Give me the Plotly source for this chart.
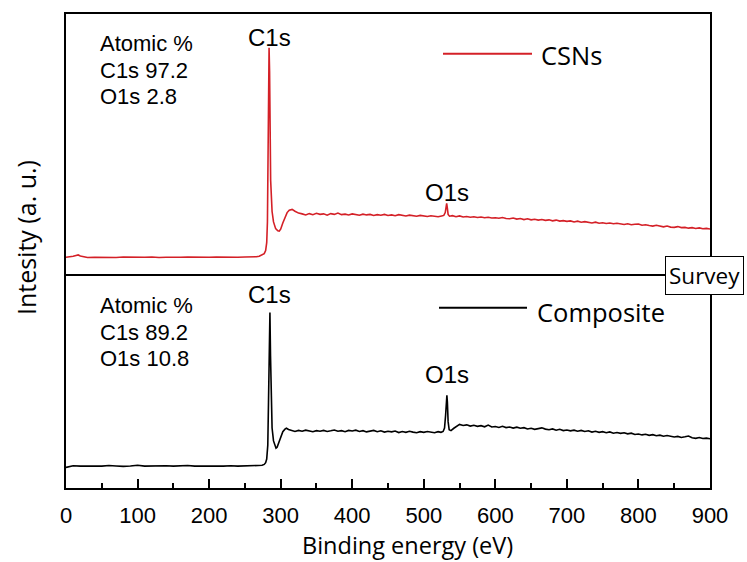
import plotly.graph_objects as go

# ---------------- data ----------------
csn_energy = [
    0, 5, 10, 14, 17, 20, 25, 30, 40, 50,
    60, 70, 80, 90, 100, 110, 120, 130, 140, 150,
    160, 170, 180, 190, 200, 210, 220, 230, 240, 250,
    260, 266, 270, 274, 277, 279, 280.5, 281.5, 282.3, 283,
    283.8, 284.5, 285.2, 286, 288, 290, 293, 296, 298, 300,
    303, 306, 309, 312, 316, 320, 325, 330, 335, 340,
    345, 350, 355, 360, 365, 370, 375, 380, 385, 390,
    395, 400, 405, 410, 415, 420, 425, 430, 435, 440,
    445, 450, 455, 460, 465, 470, 475, 480, 485, 490,
    495, 500, 505, 510, 515, 520, 525, 528, 530, 531,
    532, 533, 534, 536, 540, 545, 550, 555, 560, 565,
    570, 575, 580, 585, 590, 595, 600, 605, 610, 615,
    620, 625, 630, 635, 640, 645, 650, 655, 660, 665,
    670, 675, 680, 685, 690, 695, 700, 705, 710, 715,
    720, 725, 730, 735, 740, 745, 750, 755, 760, 765,
    770, 775, 780, 785, 790, 795, 800, 805, 810, 815,
    820, 825, 830, 835, 840, 845, 850, 855, 860, 865,
    870, 875, 880, 885, 890, 895, 900,
]
csn_intensity = [
    6.4, 6.5, 6.8, 7.1, 7.3, 6.9, 6.5, 6.3, 6.4, 6.3,
    6.4, 6.3, 6.5, 6.4, 6.3, 6.4, 6.5, 6.3, 6.4, 6.3,
    6.4, 6.5, 6.4, 6.3, 6.4, 6.5, 6.4, 6.3, 6.4, 6.5,
    6.5, 6.6, 6.8, 7.2, 7.8, 9.0, 12.0, 20.0, 38.0, 62.0,
    87.0, 78.0, 52.0, 36.0, 24.0, 20.0, 17.4, 16.6, 16.5, 17.2,
    19.6, 21.9, 23.6, 24.5, 24.8, 24.1, 23.4, 23.1, 22.7, 23.2,
    22.8, 23.3, 22.9, 23.1, 22.6, 23.2, 22.9, 23.4, 22.8, 23.0,
    22.7, 23.1, 22.8, 22.6, 23.0, 22.7, 22.9, 22.5, 22.8, 22.6,
    22.9, 22.5, 22.7, 22.4, 22.8, 22.5, 22.3, 22.6, 22.4, 22.2,
    22.5, 22.3, 22.1, 22.4, 22.2, 22.0, 22.3, 22.5, 23.6, 25.5,
    27.1, 25.2, 22.9, 22.2, 22.4, 22.0, 22.3, 21.9, 22.1, 21.8,
    22.0, 21.7, 21.9, 21.6, 21.8, 21.5, 21.6, 21.4, 21.7, 21.3,
    21.2, 21.5, 21.1, 21.3, 20.9, 21.2, 20.8, 21.0, 20.7, 20.9,
    20.6, 20.8, 20.4, 20.7, 20.3, 20.5, 20.2, 20.4, 20.0, 20.3,
    19.9, 20.1, 19.8, 19.6, 19.9, 19.5, 19.7, 19.4, 19.6, 19.3,
    19.5, 19.2, 19.0, 19.3, 18.9, 19.1, 19.2, 18.7, 18.9, 18.6,
    18.4, 18.7, 18.3, 18.1, 18.4, 18.0, 17.9, 18.2, 17.8, 17.9,
    17.6, 17.8, 17.5, 17.7, 17.4, 17.5, 17.3,
]

comp_energy = [
    0, 5, 10, 20, 30, 40, 50, 60, 70, 80,
    90, 100, 110, 120, 130, 140, 150, 160, 170, 180,
    190, 200, 210, 220, 230, 240, 250, 260, 266, 270,
    274, 277, 279, 280.5, 282, 283, 284, 285, 285.8, 286.6,
    288, 290, 292, 293.5, 295, 297, 300, 303, 306, 308,
    311, 315, 320, 325, 330, 335, 340, 345, 350, 355,
    360, 365, 370, 375, 380, 385, 390, 395, 400, 405,
    410, 415, 420, 425, 430, 435, 440, 445, 450, 455,
    460, 465, 470, 475, 480, 485, 490, 495, 500, 505,
    510, 515, 520, 524, 527, 529, 530.5, 531.5, 532.3, 533,
    534, 535.5, 538, 542, 546, 550, 555, 560, 565, 570,
    575, 580, 585, 590, 595, 600, 605, 610, 615, 620,
    625, 630, 635, 640, 645, 650, 655, 660, 665, 670,
    675, 680, 685, 690, 695, 700, 705, 710, 715, 720,
    725, 730, 735, 740, 745, 750, 755, 760, 765, 770,
    775, 780, 785, 790, 795, 800, 805, 810, 815, 820,
    825, 830, 835, 840, 845, 850, 855, 860, 865, 870,
    875, 880, 885, 890, 895, 900,
]
comp_intensity = [
    9.6, 10.1, 10.4, 10.2, 10.4, 10.3, 10.2, 10.5, 10.3, 10.1,
    10.3, 10.6, 10.2, 10.3, 10.1, 10.4, 10.2, 10.3, 10.5, 10.2,
    10.3, 10.1, 10.3, 10.2, 10.4, 10.2, 10.3, 10.2, 10.3, 10.4,
    10.6, 11.0, 11.8, 13.5, 20.0, 40.0, 70.0, 82.0, 62.0, 42.0,
    28.0, 22.0, 19.4, 18.6, 19.0, 20.8, 23.8, 26.3, 27.5, 27.9,
    27.3, 26.8, 26.4, 26.9, 26.5, 27.0, 26.6, 26.3, 26.8, 26.5,
    26.9, 26.4, 26.7, 27.1, 26.5, 26.8, 26.3, 26.9, 26.6, 27.0,
    26.4, 26.8, 26.2, 26.6, 26.9, 26.3, 26.7, 26.1, 26.5, 26.2,
    26.6, 25.9, 26.4, 26.0, 26.5, 26.1, 25.8, 26.3, 26.0, 26.4,
    26.1, 25.8, 26.3, 26.0, 26.4, 28.0, 34.0, 41.0, 43.3, 40.0,
    31.0, 27.2, 26.8, 27.9, 28.9, 29.7, 29.2, 29.5, 28.9, 29.3,
    28.8, 29.1, 28.6, 29.4, 28.5, 28.7, 28.3, 28.8, 28.2, 28.5,
    28.0, 28.4, 27.9, 28.2, 27.6, 27.9, 27.4, 27.8, 28.1, 27.5,
    27.2, 27.6, 27.0, 27.4, 26.8, 27.1, 26.7, 27.0, 26.5, 26.9,
    26.4, 26.7, 26.1, 26.5, 26.0, 26.3, 25.8, 26.2, 25.6, 25.9,
    25.5, 25.8, 25.3, 25.6, 25.0, 25.2, 24.8, 25.1, 24.6, 24.9,
    24.4, 24.7, 24.2, 24.5, 24.0, 23.8, 24.1, 23.6, 23.9, 24.3,
    23.5, 23.2, 23.6, 23.1, 23.3, 23.0,
]

x_ticks = [0, 100, 200, 300, 400, 500, 600, 700, 800, 900]
x_tick_labels = ["0", "100", "200", "300", "400", "500", "600", "700", "800", "900"]

csn_label = "CSNs"
comp_label = "Composite"
csn_atomic = ["Atomic %", "C1s 97.2", "O1s 2.8"]
comp_atomic = ["Atomic %", "C1s 89.2", "O1s 10.8"]
peak_names = ["C1s", "O1s"]
peak_energy = [284.5, 532]
csn_peak_label_y = [91.0, 31.5]
comp_peak_label_y = [90.5, 53.0]

# ---------------- figure ----------------
W, H = 747, 562
ML, MR, MT, MB = 66, 37, 12, 74
PW, PH = W - ML - MR, H - MT - MB
split = (488 - 273) / PH

def px(xp):
    return (xp - ML) / PW

def py(yp):
    return (H - MB - yp) / PH

RED = "#d42027"
ARIAL = "Liberation Sans, Arial, sans-serif"
SEGOE = "Open Sans, Noto Sans, sans-serif"

fig = go.Figure()
fig.add_trace(go.Scatter(x=csn_energy, y=csn_intensity, mode="lines",
                         line=dict(color=RED, width=1.6), xaxis="x2", yaxis="y2",
                         name=csn_label, showlegend=False))
fig.add_trace(go.Scatter(x=comp_energy, y=comp_intensity, mode="lines",
                         line=dict(color="black", width=1.6), xaxis="x", yaxis="y",
                         name=comp_label, showlegend=False))

axis_common = dict(showline=True, linecolor="black", linewidth=2,
                   showgrid=False, zeroline=False)

fig.update_layout(
    width=W, height=H,
    margin=dict(l=ML, r=MR, t=MT, b=MB),
    paper_bgcolor="white", plot_bgcolor="white",
    xaxis=dict(domain=[0, 1], anchor="y", range=[0, 900], tickvals=x_ticks,
               ticktext=x_tick_labels, ticks="inside", ticklen=9, tickwidth=2,
               tickcolor="black", tickfont=dict(family=ARIAL, size=22, color="black"),
               ticklabelstandoff=7,
               minor=dict(dtick=50, ticks="inside", ticklen=5, tickwidth=2, tickcolor="black"),
               mirror=False, **axis_common),
    yaxis=dict(domain=[0, split], range=[0, 100], showticklabels=False, ticks="",
               mirror=True, **axis_common),
    xaxis2=dict(domain=[0, 1], anchor="y2", range=[0, 900], matches="x",
                showticklabels=False, ticks="", mirror=True, **axis_common),
    yaxis2=dict(domain=[split, 1], range=[0, 100], showticklabels=False, ticks="",
                mirror=True, **axis_common),
)

ann = []
# atomic % boxes
for i, t in enumerate(csn_atomic):
    ann.append(dict(text=t, xref="paper", yref="paper", x=px(98), y=py(42 + 26.5 * i),
                    xanchor="left", yanchor="middle", showarrow=False,
                    font=dict(family=ARIAL, size=22, color="black")))
for i, t in enumerate(comp_atomic):
    ann.append(dict(text=t, xref="paper", yref="paper", x=px(98), y=py(305 + 26.5 * i),
                    xanchor="left", yanchor="middle", showarrow=False,
                    font=dict(family=ARIAL, size=22, color="black")))
# peak labels
for name, e, yv in zip(peak_names, peak_energy, csn_peak_label_y):
    ann.append(dict(text=name, xref="x2", yref="y2", x=e, y=yv, showarrow=False,
                    xanchor="center", yanchor="middle",
                    font=dict(family=ARIAL, size=24, color="black")))
for name, e, yv in zip(peak_names, peak_energy, comp_peak_label_y):
    ann.append(dict(text=name, xref="x", yref="y", x=e, y=yv, showarrow=False,
                    xanchor="center", yanchor="middle",
                    font=dict(family=ARIAL, size=24, color="black")))
# legend texts
ann.append(dict(text=csn_label, xref="paper", yref="paper", x=px(539), y=py(53),
                xanchor="left", yanchor="middle", showarrow=False,
                font=dict(family=SEGOE, size=25.5, color="black")))
ann.append(dict(text=comp_label, xref="paper", yref="paper", x=px(535), y=py(311),
                xanchor="left", yanchor="middle", showarrow=False,
                font=dict(family=SEGOE, size=25.5, color="black")))
# axis titles
ann.append(dict(text="Binding energy (eV)", xref="paper", yref="paper", x=px(407), y=py(545),
                xanchor="center", yanchor="middle", showarrow=False,
                font=dict(family=SEGOE, size=23.5, color="black")))
ann.append(dict(text="Intesity (a. u.)", xref="paper", yref="paper", x=px(26), y=py(237),
                xanchor="center", yanchor="middle", showarrow=False, textangle=-90,
                font=dict(family=SEGOE, size=25, color="black")))
# Survey box
ann.append(dict(text="Survey", xref="paper", yref="paper", x=px(665), y=py(275),
                xanchor="left", yanchor="middle", showarrow=False,
                bgcolor="white", bordercolor="black", borderwidth=1, borderpad=3,
                font=dict(family=SEGOE, size=22.5, color="black")))
fig.update_layout(annotations=ann)

# legend line samples
fig.add_shape(type="line", xref="paper", yref="paper", x0=px(443), x1=px(532),
              y0=py(52), y1=py(52), line=dict(color=RED, width=2))
fig.add_shape(type="line", xref="paper", yref="paper", x0=px(439), x1=px(527),
              y0=py(307), y1=py(307), line=dict(color="black", width=2))

fig.write_html("out.html", config={"displayModeBar": False},
               post_script="document.body.style.margin='0px';document.body.style.padding='0px';")
